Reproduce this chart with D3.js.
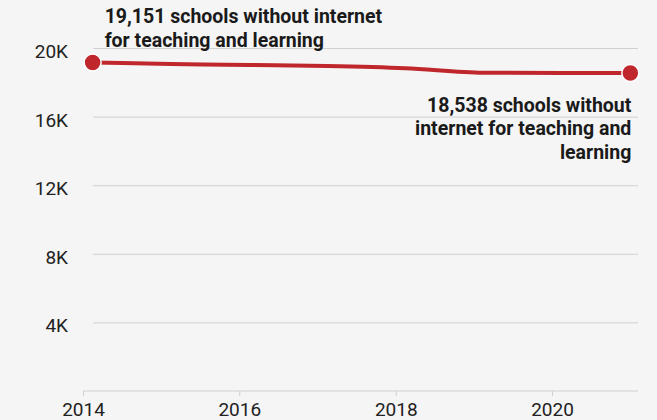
<!DOCTYPE html>
<html>
<head>
<meta charset="utf-8">
<script src="https://cdn.jsdelivr.net/npm/d3@7"></script>
<style>
  html, body { margin: 0; padding: 0; background: #f5f5f5; }
  svg { display: block; font-family: Roboto, "Noto Sans", sans-serif; }
</style>
</head>
<body>
<div id="chart"></div>
<script>
// schools without internet for teaching and learning
const dates = ['2014-02-15', '2015-02-15', '2016-02-15', '2017-02-15', '2018-02-15', '2019-02-15', '2020-02-15', '2021-01-01'];
const schools = [19151, 19070, 19010, 18950, 18820, 18555, 18545, 18538];
const yTicks = [4000, 8000, 12000, 16000, 20000];
const xTicks = [2014, 2016, 2018, 2020];
const firstLabel = ['19,151 schools without internet', 'for teaching and learning'];
const lastLabel = ['18,538 schools without', 'internet for teaching and', 'learning'];

const width = 657, height = 420;
const red = '#c0272d';
const parse = d3.timeParse('%Y-%m-%d');
const data = dates.map((d, i) => ({ date: parse(d), value: schools[i] }));

const svg = d3.select('#chart').append('svg').attr('width', width).attr('height', height);
svg.append('rect').attr('width', width).attr('height', height).attr('fill', '#f5f5f5');

const x = d3.scaleTime()
  .domain([new Date(2014, 0, 1), new Date(2020, 0, 1)])
  .range([83, 552]);
const y = d3.scaleLinear().domain([0, 20000]).range([391, 48]);
const gridLeft = 93, plotRight = 638;

// gridlines + y labels
const yAxis = svg.append('g').attr('transform', `translate(${gridLeft},0)`)
  .call(d3.axisLeft(y).tickValues(yTicks).tickSize(-(plotRight - gridLeft)).tickPadding(25)
    .tickFormat((d) => `${d / 1000}K`));
yAxis.select('.domain').remove();
yAxis.selectAll('.tick line').attr('stroke', '#d0d0d0').attr('stroke-width', 1);
yAxis.selectAll('.tick text').attr('fill', '#222').attr('font-size', 19).attr('dy', 9.5)
  .attr('font-family', 'Roboto, sans-serif');

// x axis
const xAxis = svg.append('g').attr('transform', `translate(0,${y(0)})`)
  .call(d3.axisBottom(x).tickValues(xTicks.map((yr) => new Date(yr, 0, 1)))
    .tickSize(5).tickPadding(7).tickFormat(d3.timeFormat('%Y')));
xAxis.select('.domain').remove();
xAxis.append('line').attr('x1', x(new Date(2014, 0, 1))).attr('x2', plotRight)
  .attr('y1', 0).attr('y2', 0).attr('stroke', '#d0d0d0');
xAxis.selectAll('.tick line').attr('stroke', '#d0d0d0');
xAxis.selectAll('.tick text').attr('fill', '#222').attr('font-size', 19)
  .attr('font-family', 'Roboto, sans-serif');

// line
const line = d3.line().x((d) => x(d.date)).y((d) => y(d.value)).curve(d3.curveMonotoneX);
svg.append('path').datum(data)
  .attr('d', line).attr('fill', 'none').attr('stroke', red).attr('stroke-width', 4)
  .attr('stroke-linecap', 'round');

const ends = [data[0], data[data.length - 1]];
svg.selectAll('circle.end').data(ends).join('circle')
  .attr('class', 'end')
  .attr('cx', (d) => x(d.date)).attr('cy', (d) => y(d.value)).attr('r', 8.5)
  .attr('fill', red).attr('stroke', '#fff').attr('stroke-width', 1.5);

// annotations
const first = data[0], last = data[data.length - 1];
svg.append('text')
  .attr('x', x(first.date) + 12).attr('y', y(first.value) - 39.5)
  .attr('font-size', 19.5).attr('font-weight', 700).attr('fill', '#1a1a1a')
  .selectAll('tspan').data(firstLabel).join('tspan')
  .attr('x', x(first.date) + 12).attr('dy', (d, i) => (i ? 24 : 0)).text((d) => d);

svg.append('text')
  .attr('x', x(last.date)).attr('y', y(last.value) + 38.5)
  .attr('font-size', 19.5).attr('font-weight', 700).attr('fill', '#1a1a1a')
  .attr('text-anchor', 'end')
  .selectAll('tspan').data(lastLabel).join('tspan')
  .attr('x', x(last.date) + 1).attr('dy', (d, i) => (i ? 23.5 : 0)).text((d) => d);
</script>
</body>
</html>
